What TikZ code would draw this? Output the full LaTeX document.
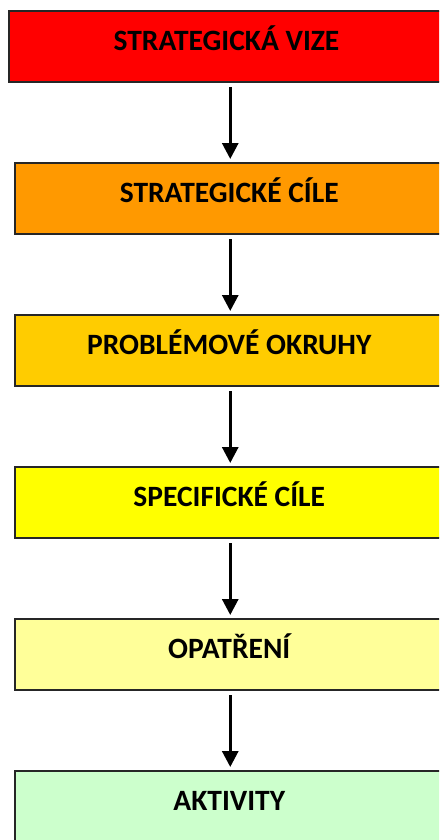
\documentclass[tikz,border=0pt]{standalone}
\usepackage{fontspec}
\setsansfont{Carlito}
\usetikzlibrary{positioning, arrows.meta}

\definecolor{vizered}{HTML}{FF0000}
\definecolor{cileorange}{HTML}{FF9900}
\definecolor{okruhygold}{HTML}{FFCC00}
\definecolor{specyellow}{HTML}{FFFF00}
\definecolor{opatlight}{HTML}{FFFF99}
\definecolor{aktgreen}{HTML}{CCFFCC}

\begin{document}
\begin{tikzpicture}[x=1pt, y=1pt,
	level/.style={draw=black!85, line width=2pt, rectangle, minimum width=429.5pt, minimum height=71pt,
		font=\sffamily\bfseries\fontsize{29.5}{34}\selectfont, text height=16pt, text depth=7.6pt},
	step arrow/.style={-{Triangle[width=16pt, length=16pt]}, shorten <=4pt, shorten >=3pt},
	node distance=79pt]
	\useasboundingbox (0,0) rectangle (439,-840);
	\clip (0,0) rectangle (439,-840);

	\node[level, fill=vizered, minimum width=436pt] (v) at (226.5,-46.5) {STRATEGICKÁ VIZE};
	\node[level, fill=cileorange, below=of v, xshift=2.75pt] (c) {STRATEGICKÉ CÍLE};
	\node[level, fill=okruhygold, below=of c] (p) {PROBLÉMOVÉ OKRUHY};
	\node[level, fill=specyellow, below=of p] (s) {SPECIFICKÉ CÍLE};
	\node[level, fill=opatlight, below=of s] (o) {OPATŘENÍ};
	\node[level, fill=aktgreen, below=of o] (a) {AKTIVITY};

	\draw [line width=3pt]
		([xshift=1pt]v.south -| c.north) edge[step arrow] ([xshift=1pt]c.north)
		([xshift=1pt]c.south) edge[step arrow] ([xshift=1pt]p.north)
		([xshift=1pt]p.south) edge[step arrow] ([xshift=1pt]s.north)
		([xshift=1pt]s.south) edge[step arrow] ([xshift=1pt]o.north)
		([xshift=1pt]o.south) edge[step arrow] ([xshift=1pt]a.north)
		;
\end{tikzpicture}
\end{document}
